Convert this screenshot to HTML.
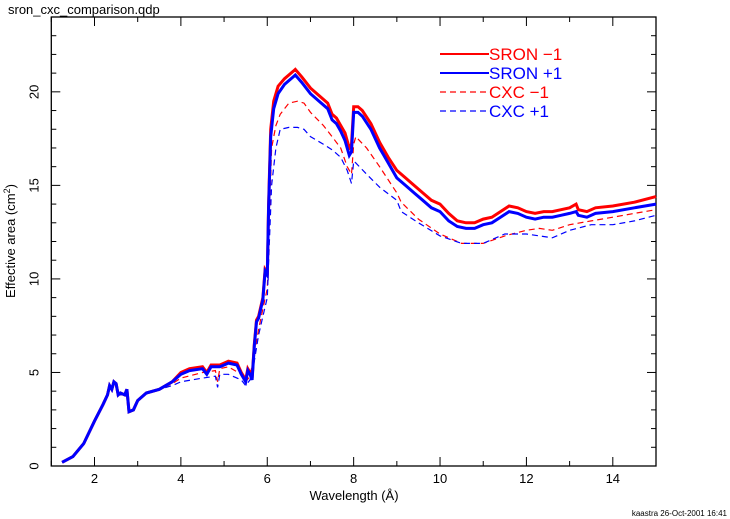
<!DOCTYPE html>
<html><head><meta charset="utf-8"><style>
html,body{margin:0;padding:0;background:#fff;}
svg{display:block;font-family:"Liberation Sans",sans-serif;}
</style></head><body>
<svg id="chart" width="730" height="519" viewBox="0 0 730 519">
<text x="8" y="14" font-size="13" fill="#000">sron_cxc_comparison.qdp</text>
<g id="axes"></g>
<g id="series"></g>
<g id="legend"></g>
<text x="354" y="500" font-size="13" text-anchor="middle">Wavelength (Å)</text>
<text transform="translate(15,241) rotate(-90)" font-size="13" text-anchor="middle">Effective area (cm<tspan baseline-shift="super" font-size="9">2</tspan>)</text>
<text x="727" y="516" font-size="8" text-anchor="end">kaastra 26-Oct-2001 16:41</text>
</svg>
<script>
const xTicks=[2,4,6,8,10,12,14];
const yTicks=[0,5,10,15,20];
const seriesNames=["SRON -1","SRON +1","CXC -1","CXC +1"];
const sronMinusWl=[1.25,1.5,1.75,2.0,2.2,2.3,2.35,2.4,2.45,2.5,2.55,2.6,2.7,2.75,2.8,2.9,3.0,3.2,3.5,3.8,4.0,4.2,4.5,4.6,4.7,4.9,5.0,5.1,5.3,5.4,5.5,5.55,5.6,5.65,5.7,5.75,5.8,5.9,5.95,6.0,6.03,6.08,6.15,6.25,6.4,6.6,6.65,6.8,7.0,7.2,7.4,7.5,7.6,7.7,7.8,7.9,7.95,8.0,8.1,8.2,8.4,8.6,8.8,9.0,9.2,9.4,9.6,9.8,10.0,10.2,10.4,10.6,10.8,11.0,11.2,11.4,11.6,11.8,12.0,12.2,12.4,12.6,12.8,13.0,13.15,13.2,13.4,13.6,14.0,14.5,15.0];
const sronMinusVal=[0.2,0.5,1.2,2.4,3.3,3.8,4.3,4.1,4.5,4.4,3.8,3.9,3.8,4.1,2.9,3.0,3.5,3.9,4.1,4.5,5.0,5.2,5.3,5.0,5.4,5.4,5.5,5.6,5.5,5.0,4.6,5.2,5.0,4.7,6.5,7.8,8.0,9.0,10.5,10.3,14.0,18.0,19.5,20.3,20.7,21.1,21.2,20.8,20.2,19.8,19.4,18.8,18.6,18.2,17.8,17.0,17.2,19.2,19.2,19.0,18.3,17.3,16.5,15.8,15.4,15.0,14.6,14.2,14.0,13.5,13.1,13.0,13.0,13.2,13.3,13.6,13.9,13.8,13.6,13.5,13.6,13.6,13.7,13.8,14.0,13.7,13.6,13.8,13.9,14.1,14.4];
const sronPlusWl=sronMinusWl;
const sronPlusVal=[0.2,0.5,1.2,2.4,3.3,3.8,4.3,4.1,4.5,4.4,3.8,3.9,3.8,4.1,2.9,3.0,3.5,3.9,4.1,4.5,4.9,5.1,5.2,4.9,5.3,5.3,5.4,5.5,5.4,4.9,4.5,5.1,4.9,4.6,6.4,7.7,7.9,8.9,10.4,10.2,13.8,17.6,19.1,19.9,20.4,20.8,20.9,20.5,19.9,19.5,19.1,18.5,18.3,17.9,17.4,16.6,16.8,18.9,18.9,18.7,18.0,17.0,16.2,15.4,15.0,14.6,14.2,13.8,13.6,13.1,12.8,12.7,12.7,12.9,13.0,13.3,13.6,13.5,13.3,13.2,13.3,13.3,13.4,13.5,13.6,13.4,13.3,13.5,13.6,13.8,14.0];
const cxcMinusWl=[1.25,1.5,1.75,2.0,2.2,2.3,2.35,2.4,2.5,2.55,2.7,2.75,2.8,2.9,3.0,3.2,3.5,3.8,4.0,4.5,4.8,4.85,4.9,5.1,5.4,5.5,5.6,5.7,5.8,5.9,6.0,6.05,6.1,6.2,6.3,6.5,6.7,6.85,7.0,7.3,7.5,7.7,7.85,7.95,8.0,8.05,8.3,8.6,9.0,9.1,9.5,10.0,10.5,11.0,11.5,12.0,12.3,12.6,13.0,13.5,14.0,14.5,15.0];
const cxcMinusVal=[0.2,0.5,1.2,2.4,3.3,3.8,4.2,4.1,4.4,3.8,3.8,4.0,2.9,3.0,3.5,3.9,4.1,4.4,4.7,5.0,5.1,4.5,5.2,5.3,4.9,4.5,4.8,6.0,7.3,8.4,9.5,13.0,17.0,18.2,18.8,19.4,19.5,19.4,18.9,18.2,17.6,17.0,16.0,15.6,17.2,17.6,17.0,16.0,14.6,14.1,13.2,12.4,11.9,11.9,12.3,12.6,12.7,12.6,12.9,13.1,13.3,13.5,13.7];
const cxcPlusWl=cxcMinusWl;
const cxcPlusVal=[0.2,0.5,1.2,2.4,3.3,3.8,4.2,4.1,4.4,3.8,3.8,4.0,2.9,3.0,3.5,3.9,4.1,4.3,4.5,4.7,4.8,4.2,4.9,4.9,4.6,4.3,4.6,5.6,7.0,8.0,9.0,12.0,15.0,17.0,18.0,18.1,18.1,18.0,17.6,17.2,16.9,16.5,15.8,15.1,16.3,16.2,15.6,14.9,14.2,13.6,13.0,12.3,11.9,11.9,12.4,12.4,12.3,12.2,12.6,12.9,12.9,13.1,13.4];

const X0=51.3,X1=656,Y0=466,Y1=17,xmin=1,xmax=15,ymin=0,ymax=24;
const sx=v=>X0+(v-xmin)*(X1-X0)/(xmax-xmin);
const sy=v=>Y0-(v-ymin)*(Y0-Y1)/(ymax-ymin);
const NS="http://www.w3.org/2000/svg";
function mk(tag,attrs,parent){const e=document.createElementNS(NS,tag);for(const k in attrs)e.setAttribute(k,attrs[k]);parent.appendChild(e);return e;}
const axes=document.getElementById('axes');
const frame=mk('rect',{x:X0,y:Y1,width:X1-X0,height:Y0-Y1,fill:'none',stroke:'#000','stroke-width':1.3},axes);


for(let v=xmin;v<=xmax;v++){
  const major=xTicks.includes(v);const L=major?9:5;
  const t1=mk('line',{x1:sx(v),x2:sx(v),y1:Y0,y2:Y0-L,stroke:'#000'},axes);
  
  
  const t2=mk('line',{x1:sx(v),x2:sx(v),y1:Y1,y2:Y1+L,stroke:'#000'},axes);
  
  
}
xTicks.forEach(v=>{const t=mk('text',{x:sx(v),y:Y0+17,'font-size':13,'text-anchor':'middle'},axes);t.textContent=v;
  
  });
for(let v=ymin;v<=ymax;v++){
  const major=yTicks.includes(v);const L=major?9:5;
  const t1=mk('line',{x1:X0,x2:X0+L,y1:sy(v),y2:sy(v),stroke:'#000'},axes);
  
  
  const t2=mk('line',{x1:X1,x2:X1-L,y1:sy(v),y2:sy(v),stroke:'#000'},axes);
  
  
}
yTicks.forEach(v=>{const t=mk('text',{transform:`translate(${X0-13},${sy(v)}) rotate(-90)`,'font-size':13,'text-anchor':'middle'},axes);t.textContent=v;
  
  });
const ser=document.getElementById('series');
const defs=[[cxcMinusWl,cxcMinusVal,'#ff0000',1.2,'6,4','cxc-minus-1-line'],[cxcPlusWl,cxcPlusVal,'#0000ff',1.2,'6,4','cxc-plus-1-line'],[sronMinusWl,sronMinusVal,'#ff0000',3,'','sron-minus-1-line'],[sronPlusWl,sronPlusVal,'#0000ff',3,'','sron-plus-1-line']];
defs.forEach(d=>{const pts=d[0].map((w,i)=>sx(w).toFixed(1)+','+sy(d[1][i]).toFixed(1)).join(' ');
  const p=mk('polyline',{points:pts,fill:'none',stroke:d[2],'stroke-width':d[3],'stroke-dasharray':d[4]},ser);
  
  });
const leg=document.getElementById('legend');
const legStyle=[['#ff0000',2,''],['#0000ff',2,''],['#ff0000',1.2,'6,4'],['#0000ff',1.2,'6,4']];
const legNames=['SRON \u22121','SRON +1','CXC \u22121','CXC +1'];
seriesNames.forEach((n,i)=>{const y=54+i*19;
  const l=mk('line',{x1:440,x2:489,y1:y,y2:y,stroke:legStyle[i][0],'stroke-width':legStyle[i][1],'stroke-dasharray':legStyle[i][2]},leg);
  
  
  const t=mk('text',{x:489,y:y+6,'font-size':17,fill:legStyle[i][0]},leg);t.textContent=legNames[i];
  
  });
</script>
</body></html>
